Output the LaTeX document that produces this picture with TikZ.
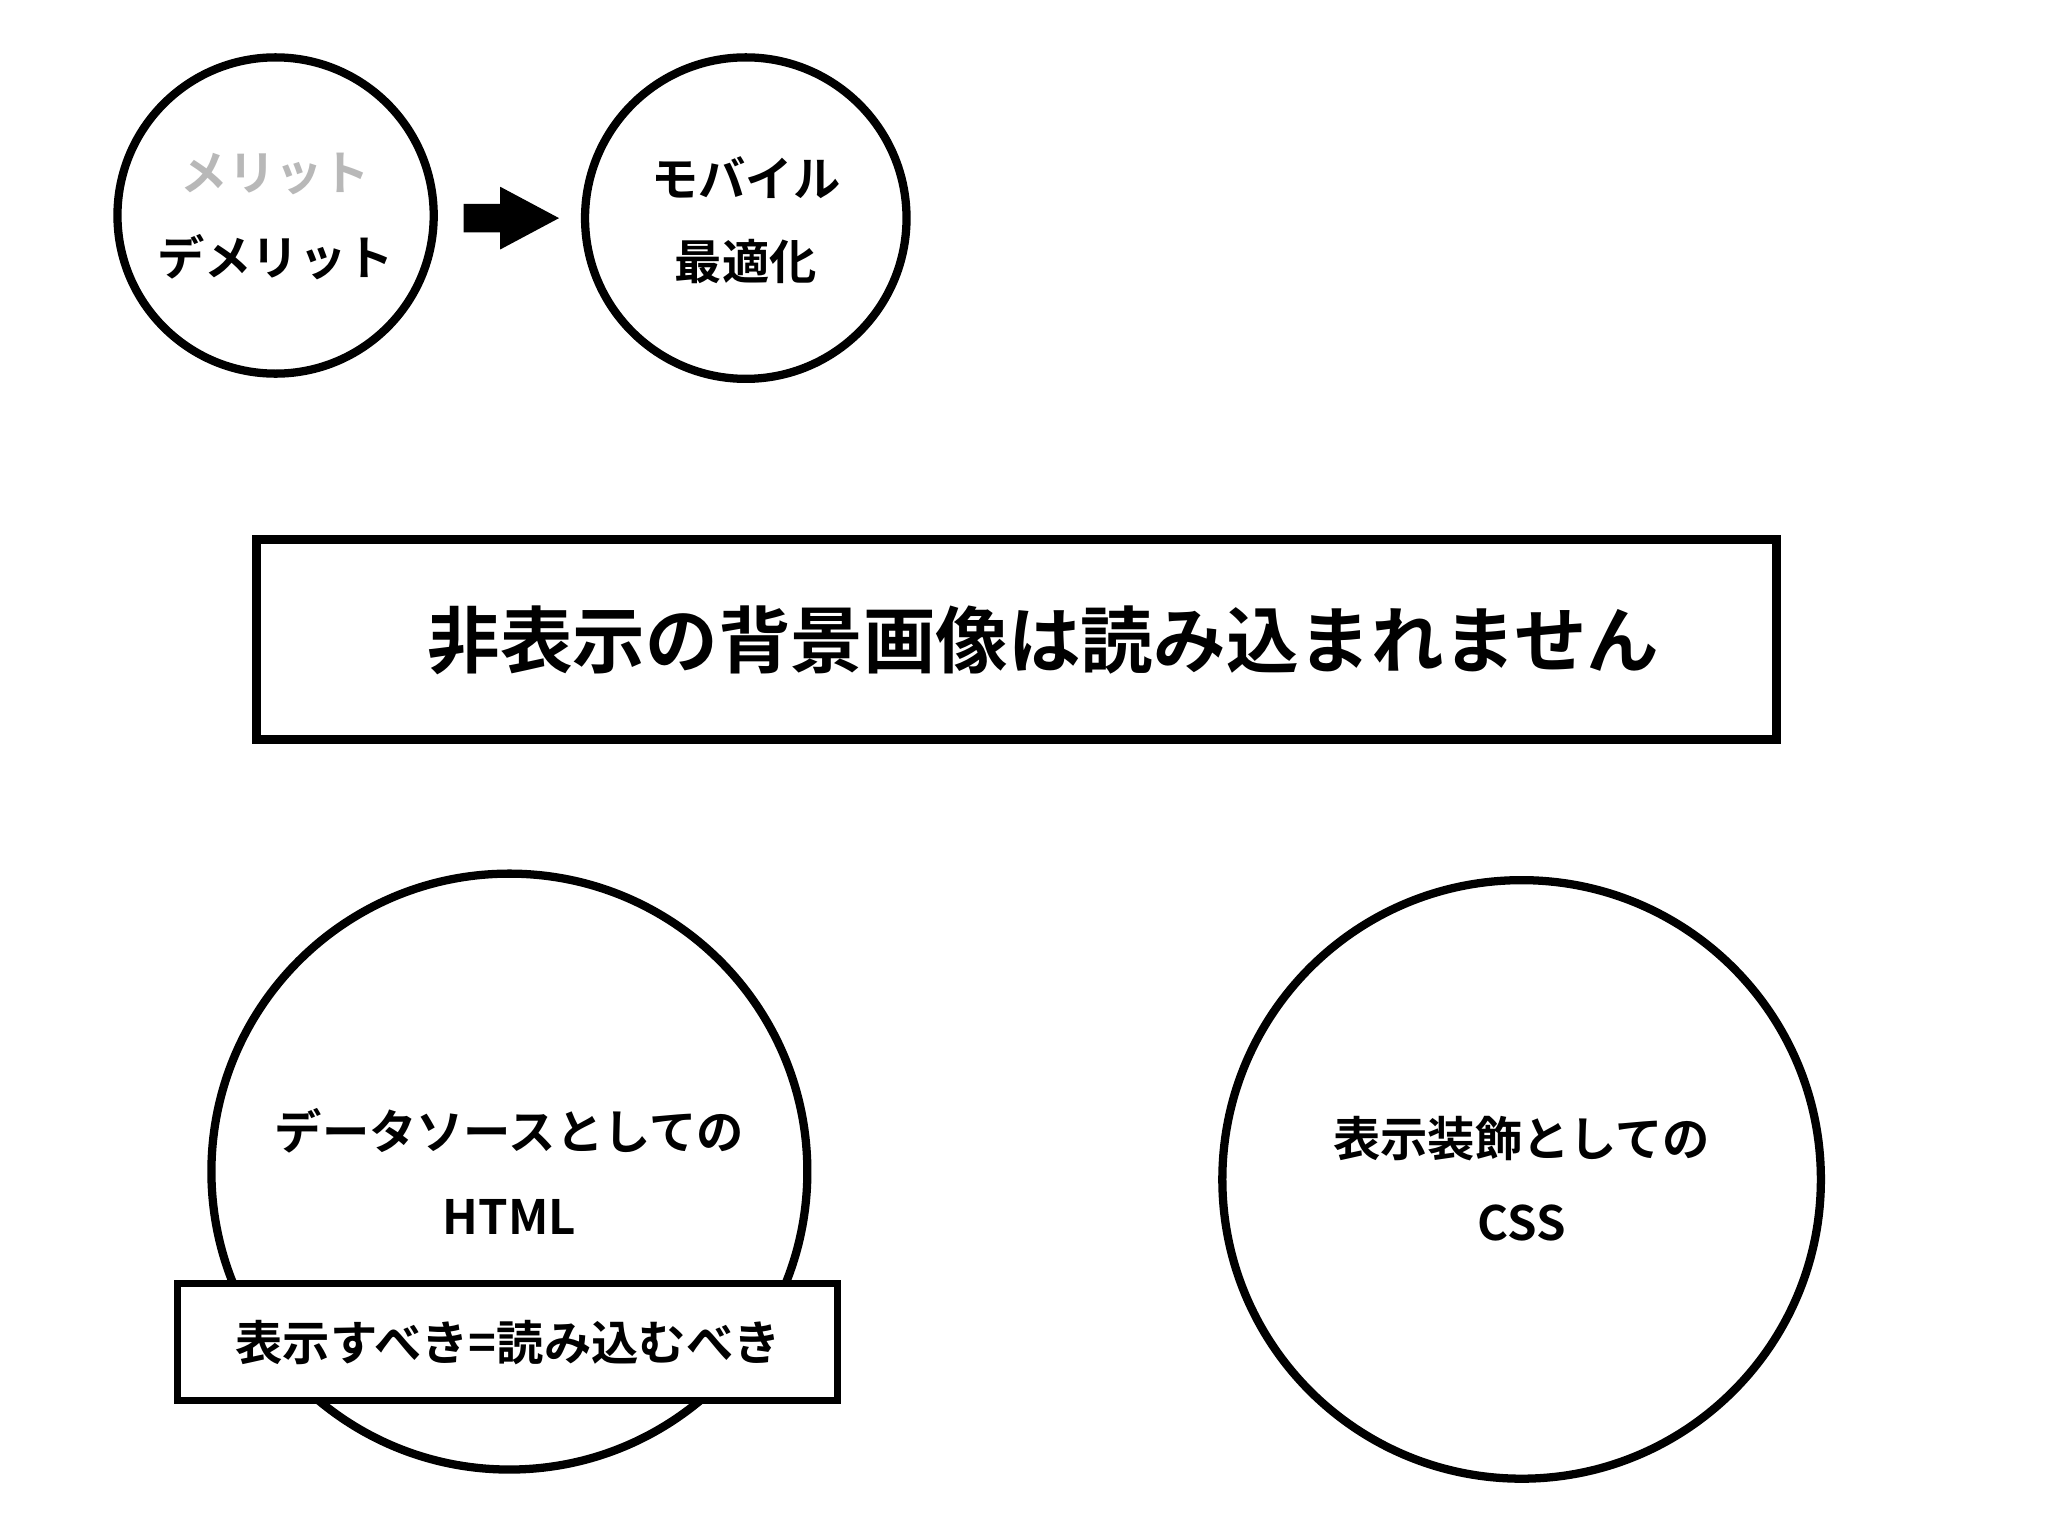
\documentclass[tikz,border=0pt]{standalone}
\usepackage{fontspec}
\setmainfont{Noto Sans CJK JP}[BoldFont={* Bold}]
\begin{document}
\begin{tikzpicture}[x=0.01cm,y=-0.01cm,
  ring/.style={draw,line width=1.8pt,circle,inner sep=0pt},
  lbl/.style={font=\bfseries\fontsize{10.3pt}{12pt}\selectfont}]
\useasboundingbox[fill=white] (0,0) rectangle (1568,1176);
\node[ring,minimum size=2.42cm] (c1) at (211,165) {};
\node[ring,minimum size=2.46cm] (c2) at (571,167) {};
\node[ring,minimum size=4.56cm] (c3) at (390,897) {};
\node[ring,minimum size=4.58cm] (c4) at (1165,903) {};
\node[draw,line width=2pt,minimum width=11.63cm,minimum height=1.53cm] (big) at (778,489.5) {};
\node[font=\bfseries\fontsize{15.8pt}{18pt}\selectfont] (bt) at (799,490) {非表示の背景画像は読み込まれません};
\fill (355,156) -- (383,156) -- (383,143) -- (428,167) -- (383,191) -- (383,178) -- (355,178) -- cycle;
\node[lbl,text=black!28] (t1) at (211,133) {メリット};
\node[lbl] (t2) at (211,197) {デメリット};
\node[lbl] (t3) at (571,136) {モバイル};
\node[lbl] (t4) at (571,200) {最適化};
\node[lbl] (t5) at (390,866) {データソースとしての};
\node[lbl] (t6) at (390,932) {HTML};
\node[draw,line width=1.5pt,fill=white,minimum width=5.05cm,minimum height=0.9cm] (box) at (388.5,1027.5) {};
\node[lbl] (t7) at (389,1028) {表示すべき=読み込むべき};
\node[lbl] (t8) at (1165,872) {表示装飾としての};
\node[lbl] (t9) at (1165,936) {CSS};
\end{tikzpicture}
\end{document}
